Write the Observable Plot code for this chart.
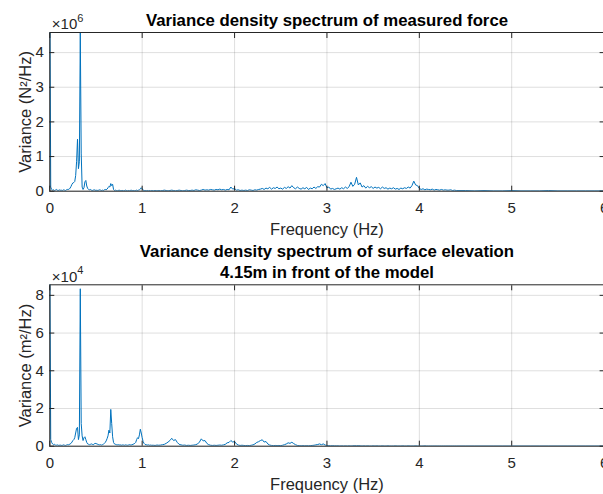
<!DOCTYPE html>
<html>
<head>
<meta charset="utf-8">
<script src="https://cdn.jsdelivr.net/npm/d3@7"></script>
<script src="https://cdn.jsdelivr.net/npm/@observablehq/plot@0.6"></script>
<style>
  html, body { margin: 0; padding: 0; background: #fff; overflow: hidden; }
  #wrap { width: 603px; height: 494px; overflow: hidden; position: relative; background: #fff; }
  #wrap svg { display: block; }
</style>
</head>
<body>
<div id="wrap"></div>
<script>
// Frequency grid (Hz)
const freq = [
 0.00,0.01,0.02,0.03,0.04,0.05,0.06,0.07,0.08,0.09,
 0.10,0.11,0.12,0.13,0.14,0.15,0.16,0.17,0.18,0.19,
 0.20,0.21,0.22,0.23,0.24,0.25,0.26,0.27,0.28,0.29,
 0.30,0.31,0.32,0.33,0.34,0.35,0.36,0.37,0.38,0.39,
 0.40,0.41,0.42,0.43,0.44,0.45,0.46,0.47,0.48,0.49,
 0.50,0.51,0.52,0.53,0.54,0.55,0.56,0.57,0.58,0.59,
 0.60,0.61,0.62,0.63,0.64,0.65,0.66,0.67,0.68,0.69,
 0.70,0.71,0.72,0.73,0.74,0.75,0.76,0.77,0.78,0.79,
 0.80,0.81,0.82,0.83,0.84,0.85,0.86,0.87,0.88,0.89,
 0.90,0.91,0.92,0.93,0.94,0.95,0.96,0.97,0.98,0.99,
 1.00,1.01,1.02,1.03,1.04,1.05,1.06,1.07,1.08,1.09,
 1.10,
 1.12,1.14,1.16,1.18,1.20,1.22,1.24,1.26,1.28,1.30,
 1.32,1.34,1.36,1.38,1.40,1.42,1.44,1.46,1.48,1.50,
 1.52,1.54,1.56,1.58,1.60,1.62,1.64,1.66,1.68,1.70,
 1.72,1.74,1.76,1.78,1.80,1.82,1.84,1.86,1.88,1.90,
 1.92,1.94,1.96,1.98,2.00,2.02,2.04,2.06,2.08,2.10,
 2.12,2.14,2.16,2.18,2.20,2.22,2.24,2.26,2.28,2.30,
 2.32,2.34,2.36,2.38,2.40,2.42,2.44,2.46,2.48,2.50,
 2.52,2.54,2.56,2.58,2.60,2.62,2.64,2.66,2.68,2.70,
 2.72,2.74,2.76,2.78,2.80,2.82,2.84,2.86,2.88,2.90,
 2.92,2.94,2.96,2.98,3.00,3.02,3.04,3.06,3.08,3.10,
 3.12,3.14,3.16,3.18,3.20,3.22,3.24,3.26,3.28,3.30,
 3.32,3.34,3.36,3.38,3.40,3.42,3.44,3.46,3.48,3.50,
 3.52,3.54,3.56,3.58,3.60,3.62,3.64,3.66,3.68,3.70,
 3.72,3.74,3.76,3.78,3.80,3.82,3.84,3.86,3.88,3.90,
 3.92,3.94,3.96,3.98,4.00,4.02,4.04,4.06,4.08,4.10,
 4.12,4.14,4.16,4.18,4.20,4.22,4.24,4.26,4.28,4.30,
 4.32,4.34,4.36,4.38,4.40,
 4.5,4.6,4.7,4.8,4.9,5.0,5.1,5.2,5.3,5.4,5.5,5.6,5.7,5.8,5.9,6.0
];

// Variance density of measured force, in units of 1e6 N^2/Hz
const forceVar = [
 6.00,0.12,0.05,0.03,0.04,0.02,0.03,0.05,0.03,0.02,
 0.03,0.04,0.02,0.03,0.02,0.04,0.03,0.02,0.04,0.05,
 0.05,0.06,0.09,0.14,0.20,0.24,0.25,0.28,0.45,0.85,
 1.50,0.65,0.85,4.58,1.10,0.12,0.05,0.10,0.27,0.31,
 0.15,0.08,0.05,0.04,0.05,0.03,0.02,0.03,0.04,0.03,
 0.02,0.03,0.02,0.03,0.04,0.03,0.02,0.03,0.02,0.04,
 0.05,0.04,0.06,0.10,0.14,0.12,0.22,0.16,0.20,0.05,
 0.02,0.03,0.02,0.01,0.02,0.03,0.02,0.01,0.02,0.02,
 0.01,0.02,0.03,0.02,0.01,0.02,0.01,0.02,0.03,0.02,
 0.01,0.02,0.01,0.02,0.03,0.02,0.03,0.04,0.06,0.10,
 0.07,0.03,0.02,0.01,0.02,0.01,0.02,0.01,0.02,0.01,
 0.02,
 0.01,0.02,0.01,0.02,0.01,0.02,0.03,0.02,0.01,0.02,
 0.03,0.02,0.01,0.02,0.03,0.02,0.01,0.02,0.03,0.02,
 0.02,0.03,0.02,0.04,0.03,0.02,0.03,0.05,0.03,0.04,
 0.03,0.05,0.04,0.03,0.05,0.04,0.06,0.04,0.05,0.03,
 0.05,0.04,0.12,0.06,0.08,0.03,0.04,0.02,0.03,0.02,
 0.03,0.02,0.04,0.03,0.02,0.04,0.03,0.05,0.06,0.08,
 0.05,0.09,0.07,0.11,0.06,0.10,0.08,0.12,0.07,0.09,
 0.06,0.11,0.08,0.13,0.09,0.16,0.10,0.07,0.12,0.08,
 0.06,0.10,0.07,0.11,0.05,0.09,0.07,0.12,0.08,0.13,
 0.12,0.20,0.16,0.22,0.10,0.12,0.06,0.08,0.05,0.07,
 0.09,0.06,0.10,0.07,0.12,0.08,0.13,0.26,0.14,0.20,
 0.40,0.18,0.24,0.12,0.16,0.09,0.14,0.10,0.13,0.08,
 0.12,0.09,0.11,0.07,0.12,0.08,0.10,0.06,0.09,0.07,
 0.10,0.06,0.08,0.05,0.09,0.07,0.10,0.08,0.12,0.09,
 0.16,0.29,0.18,0.16,0.08,0.05,0.07,0.04,0.06,0.05,
 0.04,0.06,0.03,0.05,0.04,0.03,0.05,0.03,0.04,0.03,
 0.03,0.04,0.02,0.03,0.02,
 0.02,0.01,0.02,0.01,0.01,0.02,0.01,0.01,0.01,0.02,0.01,0.01,0.01,0.01,0.01,0.01
];

// Variance density of surface elevation, in units of 1e4 m^2/Hz
const etaVar = [
 10.0,0.35,0.20,0.12,0.08,0.10,0.06,0.05,0.07,0.05,
 0.04,0.06,0.05,0.04,0.05,0.07,0.05,0.04,0.06,0.08,
 0.07,0.09,0.12,0.15,0.22,0.30,0.35,0.45,0.70,0.95,
 1.00,0.35,0.60,8.35,1.20,0.55,0.30,0.45,0.50,0.35,
 0.20,0.12,0.10,0.08,0.10,0.12,0.10,0.08,0.12,0.15,
 0.14,0.12,0.10,0.08,0.07,0.08,0.06,0.08,0.10,0.15,
 0.20,0.28,0.40,0.55,0.85,0.70,1.95,1.20,0.50,0.20,
 0.12,0.10,0.08,0.07,0.08,0.06,0.07,0.06,0.05,0.07,
 0.06,0.05,0.07,0.06,0.05,0.06,0.08,0.07,0.06,0.08,
 0.10,0.12,0.15,0.20,0.35,0.45,0.40,0.60,0.90,0.70,
 0.45,0.25,0.15,0.10,0.08,0.07,0.06,0.07,0.05,0.06,
 0.05,
 0.05,0.04,0.06,0.05,0.06,0.08,0.10,0.15,0.22,0.30,
 0.42,0.30,0.35,0.20,0.10,0.07,0.05,0.06,0.04,0.05,
 0.04,0.05,0.06,0.08,0.12,0.22,0.39,0.28,0.30,0.15,
 0.08,0.05,0.04,0.05,0.04,0.05,0.06,0.05,0.07,0.10,
 0.18,0.20,0.30,0.22,0.25,0.12,0.06,0.04,0.05,0.04,
 0.03,0.04,0.03,0.05,0.07,0.12,0.20,0.24,0.30,0.34,
 0.22,0.25,0.12,0.06,0.04,0.03,0.04,0.03,0.04,0.03,
 0.05,0.08,0.12,0.18,0.15,0.21,0.14,0.08,0.04,0.03,
 0.02,0.03,0.02,0.03,0.02,0.03,0.04,0.05,0.07,0.09,
 0.12,0.08,0.12,0.06,0.04,0.03,0.02,0.03,0.02,0.02,
 0.02,0.01,0.02,0.01,0.02,0.01,0.02,0.01,0.02,0.03,
 0.02,0.03,0.02,0.01,0.02,0.01,0.02,0.01,0.01,0.02,
 0.01,0.02,0.01,0.01,0.02,0.01,0.01,0.02,0.01,0.01,
 0.01,0.02,0.01,0.01,0.01,0.02,0.01,0.01,0.02,0.01,
 0.01,0.01,0.02,0.01,0.01,0.01,0.01,0.02,0.01,0.01,
 0.01,0.01,0.01,0.01,0.01,0.01,0.01,0.01,0.01,0.01,
 0.01,0.01,0.01,0.01,0.01,
 0.01,0.01,0.01,0.01,0.01,0.01,0.01,0.01,0.01,0.01,0.01,0.01,0.01,0.01,0.01,0.01
];

const xTicks = [0, 1, 2, 3, 4, 5, 6];
const forceTicks = [0, 1, 2, 3, 4];
const etaTicks = [0, 2, 4, 6, 8];
const forceMax = 4.58;
const etaMax = 8.56;
const forceExp = "6";
const etaExp = "4";
const titleTop = "Variance density spectrum of measured force";
const titleBottom = "Variance density spectrum of surface elevation\n4.15m in front of the model";
const ylabelTop = "Variance (N\u00B2/Hz)";
const ylabelBottom = "Variance (m\u00B2/Hz)";
const xlabel = "Frequency (Hz)";

if (forceVar.length !== freq.length || etaVar.length !== freq.length) {
  throw new Error(`length mismatch freq=${freq.length} force=${forceVar.length} eta=${etaVar.length}`);
}

const INK = "#262626";
const LINE = "#0072BD";
const FONT = "'Liberation Sans', Arial, Helvetica, sans-serif";

function panel({vals, yMax, yTicks, title, ylabel, expo, height, marginTop, marginBottom, titleDy, titleLH}) {
  const data = freq.map((f, i) => ({f, v: vals[i]}));
  return Plot.plot({
    width: 620,
    height,
    marginLeft: 49.3,
    marginRight: 16.4,
    marginTop,
    marginBottom,
    style: {fontFamily: FONT, fontSize: "15px", color: INK, background: "#fff", maxWidth: "none", overflow: "visible"},
    x: {domain: [0, 6]},
    y: {domain: [0, yMax]},
    marks: [
      Plot.gridX(xTicks, {stroke: INK, strokeOpacity: 0.15}),
      Plot.gridY(yTicks, {stroke: INK, strokeOpacity: 0.15}),
      Plot.line(data, {x: "f", y: "v", stroke: LINE, strokeWidth: 1, clip: true}),
      Plot.frame({stroke: INK, strokeWidth: 1}),
      Plot.axisX(xTicks, {anchor: "bottom", tickSize: -5, tickPadding: 16, label: null, color: INK, fontSize: 15}),
      Plot.axisX(xTicks, {anchor: "top", tickSize: -5, tickFormat: () => "", label: null, color: INK}),
      Plot.axisY(yTicks, {anchor: "left", tickSize: -5, tickPadding: 11, label: null, color: INK, fontSize: 15}),
      Plot.axisY(yTicks, {anchor: "right", tickSize: -5, tickFormat: () => "", label: null, color: INK}),
      Plot.text([title], {frameAnchor: "top", lineAnchor: "bottom", dy: titleDy, lineHeight: titleLH, fontWeight: "bold", fontSize: 16.75, fill: "#000"}),
      Plot.text(["\u00D710"], {frameAnchor: "top-left", textAnchor: "start", lineAnchor: "bottom", dx: 2, dy: -3.2, fontSize: 15, fill: INK}),
      Plot.text([expo], {frameAnchor: "top-left", textAnchor: "start", lineAnchor: "bottom", dx: 27.5, dy: -10.8, fontSize: 11, fill: INK}),
      Plot.text([ylabel], {frameAnchor: "left", rotate: -90, textAnchor: "middle", lineAnchor: "bottom", dx: -18.8, fontSize: 16.5, fill: INK}),
      Plot.text([xlabel], {frameAnchor: "bottom", lineAnchor: "bottom", dy: 43.3, fontSize: 16.5, fill: INK})
    ]
  });
}

const wrap = document.getElementById("wrap");
wrap.append(panel({
  vals: forceVar, yMax: forceMax, yTicks: forceTicks, title: titleTop, ylabel: ylabelTop, expo: forceExp,
  height: 240, marginTop: 32, marginBottom: 49.3, titleDy: -6.3, titleLH: 1.25
}));
wrap.append(panel({
  vals: etaVar, yMax: etaMax, yTicks: etaTicks, title: titleBottom, ylabel: ylabelBottom, expo: etaExp,
  height: 254, marginTop: 44.3, marginBottom: 48.3, titleDy: -7.3, titleLH: 1.254
}));
</script>
</body>
</html>
